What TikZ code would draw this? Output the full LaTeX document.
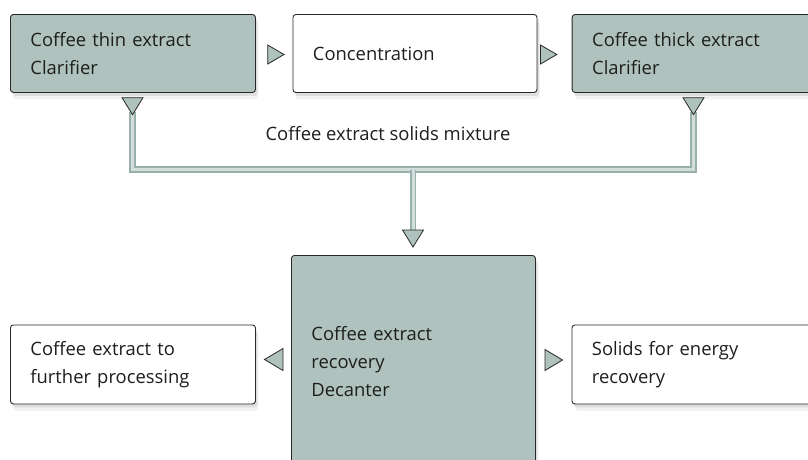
\documentclass[tikz,border=0pt]{standalone}
\usepackage{fontspec}
\setmainfont{Open Sans}
\usetikzlibrary{shadows}
\definecolor{boxgray}{RGB}{175,194,189}
\definecolor{pipedark}{RGB}{152,175,170}
\definecolor{pipelight}{RGB}{210,222,219}
\definecolor{edgecol}{RGB}{40,40,40}
\definecolor{txtcol}{RGB}{30,30,30}
\tikzset{
  box/.style={draw=edgecol, line width=0.9pt, rounded corners=3pt, anchor=north west,
    align=left, inner xsep=20pt, inner ysep=0pt, text=txtcol,
    font=\fontsize{18.4}{28}\selectfont,
    drop shadow={opacity=0.10, shadow xshift=3pt, shadow yshift=-7pt},
    drop shadow={opacity=0.18, shadow xshift=2pt, shadow yshift=-3.5pt}},
  graybox/.style={box, fill=boxgray},
  whitebox/.style={box, fill=white},
  tri/.style={draw=edgecol, fill=boxgray, line width=0.8pt, line join=miter},
  pipe/.style={draw=pipedark, line width=1.6pt, double=pipelight, double distance=3pt, line join=miter},
  lbl/.style={font=\fontsize{18.4}{28}\selectfont, text=txtcol, anchor=base}
}
\begin{document}
\begin{tikzpicture}[x=1pt,y=-1pt]
\useasboundingbox (0,0) rectangle (808,459);
\clip (0,0) rectangle (808,459);
\fill[white] (0,0) rectangle (808,459);

% pipe connector
\coordinate (tL) at (132.5,112);
\coordinate (tR) at (693.5,112);
\coordinate (tM) at (413,232);
\coordinate (jn) at (413,169.5);
\draw[pipe] (tL) -- (tL |- jn) -| (tR);
\draw[pipe] (jn) -- (tM);

% boxes
\node[graybox, minimum width=245pt, minimum height=78pt, text width=205pt] (b1) at (10,14)
  {Coffee thin extract\\Clarifier};
\node[whitebox, minimum width=244pt, minimum height=78pt, text width=204pt] (b2) at (292.5,14)
  {Concentration};
\node[graybox, minimum width=260pt, minimum height=78pt, text width=220pt] (b3) at (571.7,14)
  {Coffee thick extract\\Clarifier};
\node[graybox, minimum width=244pt, minimum height=212pt, text width=204pt] (b4) at (291,255)
  {Coffee extract\\recovery\\Decanter};
\node[whitebox, minimum width=245pt, minimum height=79pt, text width=205pt] (b5) at (10,324.5)
  {Coffee extract to\\further processing};
\node[whitebox, minimum width=260pt, minimum height=79pt, text width=220pt] (b6) at (571.5,324.5)
  {Solids for energy\\recovery};

\node[lbl] (mix) at (388,140) {Coffee extract solids mixture};

% triangles
\draw[tri] (267.7,45) -- (284,54.5) -- (267.7,64) -- cycle;
\draw[tri] (540.5,45) -- (556.8,54.5) -- (540.5,64) -- cycle;
\draw[tri] (122,97.7) -- (143,97.7) -- (132.5,114.7) -- cycle;
\draw[tri] (683,97.7) -- (704,97.7) -- (693.5,114.7) -- cycle;
\draw[tri] (402.5,230) -- (423.5,230) -- (413,247) -- cycle;
\draw[tri] (283,348.5) -- (264.5,359.5) -- (283,370.5) -- cycle;
\draw[tri] (545,349.5) -- (562.5,360) -- (545,370.5) -- cycle;
\end{tikzpicture}
\end{document}
